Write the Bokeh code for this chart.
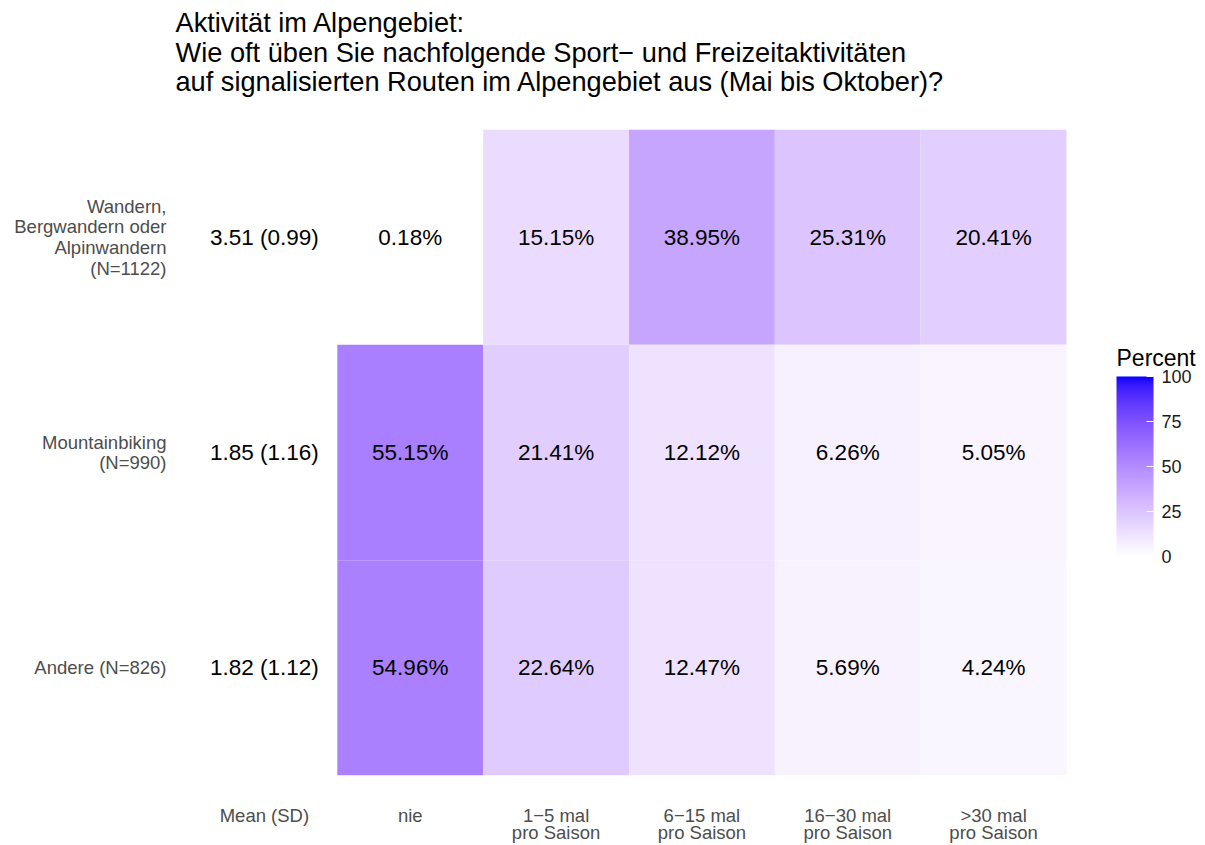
import numpy as np
from bokeh.plotting import figure
from bokeh.models import (ColumnDataSource, LinearColorMapper, ColorBar, FixedTicker, Range1d, Label)
from bokeh.transform import transform
from bokeh.core.properties import value
from bokeh.embed import file_html
from bokeh.resources import INLINE

# ---------------- data ----------------
activities = ["Wandern,\nBergwandern oder\nAlpinwandern\n(N=1122)",
              "Mountainbiking\n(N=990)",
              "Andere (N=826)"]
mean_sd = ["3.51 (0.99)", "1.85 (1.16)", "1.82 (1.12)"]
x_labels = ["Mean (SD)", "nie", "1\u22125 mal\npro Saison", "6\u221215 mal\npro Saison",
            "16\u221230 mal\npro Saison", ">30 mal\npro Saison"]
pct_wandern = [0.18, 15.15, 38.95, 25.31, 20.41]
pct_mtb = [55.15, 21.41, 12.12, 6.26, 5.05]
pct_andere = [54.96, 22.64, 12.47, 5.69, 4.24]
legend_ticks = [0, 25, 50, 75, 100]

# ---------------- colour scale (white -> blue, Lab interpolation) ----------------
def srgb_to_lab(rgb):
    c = np.array(rgb, float) / 255.0
    c = np.where(c <= 0.04045, c / 12.92, ((c + 0.055) / 1.055) ** 2.4)
    M = np.array([[0.4124564, 0.3575761, 0.1804375],
                  [0.2126729, 0.7151522, 0.0721750],
                  [0.0193339, 0.1191920, 0.9503041]])
    xyz = M @ c
    wp = np.array([0.95047, 1.0, 1.08883])
    t = xyz / wp
    f = np.where(t > (6/29)**3, np.cbrt(t), t / (3*(6/29)**2) + 4/29)
    return np.array([116*f[1]-16, 500*(f[0]-f[1]), 200*(f[1]-f[2])])

def lab_to_hex(lab):
    L, a, b = lab
    fy = (L + 16) / 116
    fx = fy + a / 500
    fz = fy - b / 200
    f = np.array([fx, fy, fz])
    t = np.where(f > 6/29, f**3, 3*(6/29)**2*(f - 4/29))
    xyz = t * np.array([0.95047, 1.0, 1.08883])
    Minv = np.array([[3.2404542, -1.5371385, -0.4985314],
                     [-0.9692660, 1.8760108, 0.0415560],
                     [0.0556434, -0.2040259, 1.0572252]])
    c = Minv @ xyz
    c = np.clip(c, 0, 1)
    c = np.where(c <= 0.0031308, 12.92*c, 1.055*c**(1/2.4) - 0.055)
    r, g, bb = (np.round(np.clip(c, 0, 1)*255)).astype(int)
    return "#%02x%02x%02x" % (r, g, bb)

lo, hi = srgb_to_lab((255, 255, 255)), srgb_to_lab((0, 0, 255))
palette = [lab_to_hex(lo + (hi - lo) * t) for t in np.linspace(0, 1, 256)]
mapper = LinearColorMapper(palette=palette, low=0, high=100)

# ---------------- sources ----------------
rows = [pct_wandern, pct_mtb, pct_andere]
ypos = [2, 1, 0]
tx, ty, tp, tl = [], [], [], []
for r, vals in enumerate(rows):
    for c, v in enumerate(vals):
        tx.append(c + 1)
        ty.append(ypos[r])
        tp.append(v)
        tl.append("%.2f%%" % v)
tiles = ColumnDataSource(dict(x=tx, y=ty, pct=tp, label=tl))
means = ColumnDataSource(dict(x=[0]*3, y=ypos, label=mean_sd))

FONT = "Liberation Sans"

# frame covers the heat-map (6 columns x 3 rows) plus room on the right for the legend
COL_PX = 875 / 6.0
LEGEND_PX = 134
x_end = 5.5 + LEGEND_PX / COL_PX

p = figure(frame_width=875 + LEGEND_PX, frame_height=646,
           x_range=Range1d(-0.5, x_end), y_range=Range1d(-0.5, 2.5),
           output_backend="svg", toolbar_location=None,
           min_border_left=191, min_border_right=0, min_border_top=129, min_border_bottom=62)

p.rect(x="x", y="y", width=1, height=1, source=tiles,
       fill_color=transform("pct", mapper), line_color=None)
p.text(x="x", y="y", text="label", source=tiles, text_align="center", text_baseline="middle",
       text_font=value(FONT), text_font_size="22.5px", text_color="#000000")
p.text(x="x", y="y", text="label", source=means, text_align="center", text_baseline="middle",
       text_font=value(FONT), text_font_size="22.5px", text_color="#000000")

# axes
p.xaxis.ticker = FixedTicker(ticks=list(range(len(x_labels))))
p.xaxis.major_label_overrides = {i: s for i, s in enumerate(x_labels)}
p.yaxis.ticker = FixedTicker(ticks=ypos)
p.yaxis.major_label_overrides = {ypos[i]: s for i, s in enumerate(activities)}
for ax in (p.xaxis, p.yaxis):
    ax.axis_line_color = None
    ax.major_tick_line_color = None
    ax.minor_tick_line_color = None
    ax.major_tick_out = 0
    ax.major_tick_in = 0
    ax.major_label_text_font = FONT
    ax.major_label_text_font_size = "18.5px"
    ax.major_label_text_color = "#4d4d4d"
p.xaxis.major_label_text_line_height = 0.85
p.yaxis.major_label_text_line_height = 0.98
p.xaxis.major_label_standoff = 29
p.yaxis.major_label_standoff = 25

p.xgrid.visible = False
p.ygrid.visible = False
p.outline_line_color = None

# title (trailing newline leaves the gap between title and heat-map)
p.title.text = ("Aktivit\u00e4t im Alpengebiet:\n"
                "Wie oft \u00fcben Sie nachfolgende Sport\u2212 und Freizeitaktivit\u00e4ten\n"
                "auf signalisierten Routen im Alpengebiet aus (Mai bis Oktober)?\n")
p.title.text_font = FONT
p.title.text_font_size = "27.2px"
p.title.text_font_style = "normal"
p.title.text_color = "#000000"
p.title.align = "left"
p.title.offset = -16
p.title.standoff = 6
p.title.text_line_height = 0.95

# colour bar (placed in pixels relative to the frame)
cb = ColorBar(color_mapper=mapper, ticker=FixedTicker(ticks=legend_ticks),
              width=37, height=180, location=(915, 209), padding=10,
              major_label_text_font=FONT, major_label_text_font_size="18px",
              major_label_text_color="#1a1a1a", label_standoff=8,
              major_tick_line_color="white", major_tick_in=7, major_tick_out=0,
              bar_line_color=None, border_line_color=None, background_fill_alpha=0)
p.add_layout(cb)
p.add_layout(Label(x=5.5 + 50 / COL_PX, y=-0.5 + 418 / (646 / 3.0), text="Percent",
                   text_font=FONT, text_font_size="23px",
                   text_color="#000000", text_baseline="middle", text_align="left"))

open("out.html", "w").write(file_html(p, INLINE))
